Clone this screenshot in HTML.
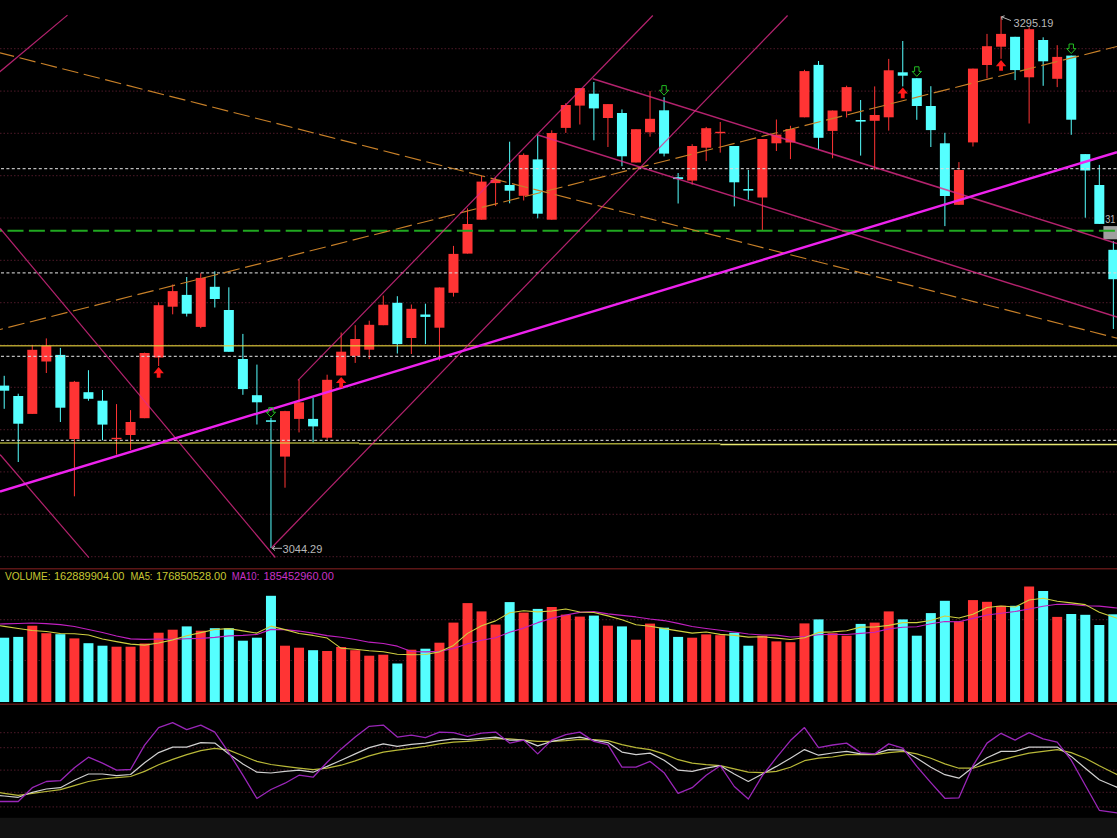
<!DOCTYPE html><html><head><meta charset="utf-8"><style>html,body{margin:0;padding:0;background:#000;overflow:hidden;}svg{display:block;}text{font-family:"Liberation Sans",sans-serif;}</style></head><body>
<svg width="1117" height="838" viewBox="0 0 1117 838">
<rect x="0" y="0" width="1117" height="838" fill="#000"/>
<rect x="0" y="817.8" width="1117" height="20.2" fill="#121212"/>
<line x1="0" y1="48.7" x2="1117" y2="48.7" stroke="#3e1420" stroke-width="1.2" stroke-dasharray="1.5 2"/>
<line x1="0" y1="91.03" x2="1117" y2="91.03" stroke="#3e1420" stroke-width="1.2" stroke-dasharray="1.5 2"/>
<line x1="0" y1="133.35" x2="1117" y2="133.35" stroke="#3e1420" stroke-width="1.2" stroke-dasharray="1.5 2"/>
<line x1="0" y1="175.68" x2="1117" y2="175.68" stroke="#3e1420" stroke-width="1.2" stroke-dasharray="1.5 2"/>
<line x1="0" y1="218" x2="1117" y2="218" stroke="#3e1420" stroke-width="1.2" stroke-dasharray="1.5 2"/>
<line x1="0" y1="260.32" x2="1117" y2="260.32" stroke="#3e1420" stroke-width="1.2" stroke-dasharray="1.5 2"/>
<line x1="0" y1="302.65" x2="1117" y2="302.65" stroke="#3e1420" stroke-width="1.2" stroke-dasharray="1.5 2"/>
<line x1="0" y1="344.98" x2="1117" y2="344.98" stroke="#3e1420" stroke-width="1.2" stroke-dasharray="1.5 2"/>
<line x1="0" y1="387.3" x2="1117" y2="387.3" stroke="#3e1420" stroke-width="1.2" stroke-dasharray="1.5 2"/>
<line x1="0" y1="429.62" x2="1117" y2="429.62" stroke="#3e1420" stroke-width="1.2" stroke-dasharray="1.5 2"/>
<line x1="0" y1="471.95" x2="1117" y2="471.95" stroke="#3e1420" stroke-width="1.2" stroke-dasharray="1.5 2"/>
<line x1="0" y1="514.28" x2="1117" y2="514.28" stroke="#3e1420" stroke-width="1.2" stroke-dasharray="1.5 2"/>
<line x1="0" y1="556.6" x2="1117" y2="556.6" stroke="#3e1420" stroke-width="1.2" stroke-dasharray="1.5 2"/>
<line x1="0" y1="619.7" x2="1117" y2="619.7" stroke="#3e1420" stroke-width="1.2" stroke-dasharray="1.5 2"/>
<line x1="0" y1="660.5" x2="1117" y2="660.5" stroke="#3e1420" stroke-width="1.2" stroke-dasharray="1.5 2"/>
<line x1="0" y1="732.7" x2="1117" y2="732.7" stroke="#3e1420" stroke-width="1.2" stroke-dasharray="1.5 2"/>
<line x1="0" y1="747.7" x2="1117" y2="747.7" stroke="#3e1420" stroke-width="1.2" stroke-dasharray="1.5 2"/>
<line x1="0" y1="770.1" x2="1117" y2="770.1" stroke="#3e1420" stroke-width="1.2" stroke-dasharray="1.5 2"/>
<line x1="0" y1="792.4" x2="1117" y2="792.4" stroke="#3e1420" stroke-width="1.2" stroke-dasharray="1.5 2"/>
<line x1="0" y1="806.8" x2="1117" y2="806.8" stroke="#3e1420" stroke-width="1.2" stroke-dasharray="1.5 2"/>
<line x1="0" y1="568.8" x2="1117" y2="568.8" stroke="#5c1616" stroke-width="1.5"/>
<line x1="0" y1="704.2" x2="1117" y2="704.2" stroke="#5c1616" stroke-width="1.5"/>
<rect x="-0.8" y="637.7" width="10" height="64.3" fill="#55ffff"/>
<rect x="13.24" y="636.9" width="10" height="65.1" fill="#55ffff"/>
<rect x="27.28" y="625.7" width="10" height="76.3" fill="#ff3434"/>
<rect x="41.32" y="633.2" width="10" height="68.8" fill="#ff3434"/>
<rect x="55.36" y="634.2" width="10" height="67.8" fill="#55ffff"/>
<rect x="69.4" y="638.4" width="10" height="63.6" fill="#ff3434"/>
<rect x="83.44" y="643.2" width="10" height="58.8" fill="#55ffff"/>
<rect x="97.48" y="645.7" width="10" height="56.3" fill="#55ffff"/>
<rect x="111.52" y="646.7" width="10" height="55.3" fill="#ff3434"/>
<rect x="125.56" y="646.7" width="10" height="55.3" fill="#ff3434"/>
<rect x="139.6" y="643.5" width="10" height="58.5" fill="#ff3434"/>
<rect x="153.64" y="632.7" width="10" height="69.3" fill="#ff3434"/>
<rect x="167.68" y="629.7" width="10" height="72.3" fill="#ff3434"/>
<rect x="181.72" y="626.4" width="10" height="75.6" fill="#55ffff"/>
<rect x="195.76" y="630.7" width="10" height="71.3" fill="#ff3434"/>
<rect x="209.8" y="628.2" width="10" height="73.8" fill="#55ffff"/>
<rect x="223.84" y="628.2" width="10" height="73.8" fill="#55ffff"/>
<rect x="237.88" y="640.7" width="10" height="61.3" fill="#55ffff"/>
<rect x="251.92" y="637.7" width="10" height="64.3" fill="#55ffff"/>
<rect x="265.96" y="595.8" width="10" height="106.2" fill="#55ffff"/>
<rect x="280" y="645.7" width="10" height="56.3" fill="#ff3434"/>
<rect x="294.04" y="647.7" width="10" height="54.3" fill="#ff3434"/>
<rect x="308.08" y="650.2" width="10" height="51.8" fill="#55ffff"/>
<rect x="322.12" y="651" width="10" height="51" fill="#ff3434"/>
<rect x="336.16" y="647" width="10" height="55" fill="#ff3434"/>
<rect x="350.2" y="650.2" width="10" height="51.8" fill="#ff3434"/>
<rect x="364.24" y="655.7" width="10" height="46.3" fill="#ff3434"/>
<rect x="378.28" y="654.7" width="10" height="47.3" fill="#ff3434"/>
<rect x="392.32" y="663.5" width="10" height="38.5" fill="#55ffff"/>
<rect x="406.36" y="649.7" width="10" height="52.3" fill="#ff3434"/>
<rect x="420.4" y="648.7" width="10" height="53.3" fill="#55ffff"/>
<rect x="434.44" y="642.7" width="10" height="59.3" fill="#ff3434"/>
<rect x="448.48" y="622.6" width="10" height="79.4" fill="#ff3434"/>
<rect x="462.52" y="603.1" width="10" height="98.9" fill="#ff3434"/>
<rect x="476.56" y="611.4" width="10" height="90.6" fill="#ff3434"/>
<rect x="490.6" y="624.6" width="10" height="77.4" fill="#ff3434"/>
<rect x="504.64" y="602.1" width="10" height="99.9" fill="#55ffff"/>
<rect x="518.68" y="612.6" width="10" height="89.4" fill="#ff3434"/>
<rect x="532.72" y="608.9" width="10" height="93.1" fill="#55ffff"/>
<rect x="546.76" y="607" width="10" height="95" fill="#ff3434"/>
<rect x="560.8" y="614.6" width="10" height="87.4" fill="#ff3434"/>
<rect x="574.84" y="616.6" width="10" height="85.4" fill="#ff3434"/>
<rect x="588.88" y="615.6" width="10" height="86.4" fill="#55ffff"/>
<rect x="602.92" y="625.7" width="10" height="76.3" fill="#ff3434"/>
<rect x="616.96" y="626.4" width="10" height="75.6" fill="#55ffff"/>
<rect x="631" y="639.7" width="10" height="62.3" fill="#ff3434"/>
<rect x="645.04" y="623.6" width="10" height="78.4" fill="#ff3434"/>
<rect x="659.08" y="627.7" width="10" height="74.3" fill="#55ffff"/>
<rect x="673.12" y="636.9" width="10" height="65.1" fill="#55ffff"/>
<rect x="687.16" y="637.7" width="10" height="64.3" fill="#ff3434"/>
<rect x="701.2" y="634.4" width="10" height="67.6" fill="#ff3434"/>
<rect x="715.24" y="635.2" width="10" height="66.8" fill="#ff3434"/>
<rect x="729.28" y="632.7" width="10" height="69.3" fill="#55ffff"/>
<rect x="743.32" y="645.7" width="10" height="56.3" fill="#55ffff"/>
<rect x="757.36" y="635.7" width="10" height="66.3" fill="#ff3434"/>
<rect x="771.4" y="641.4" width="10" height="60.6" fill="#ff3434"/>
<rect x="785.44" y="642.2" width="10" height="59.8" fill="#ff3434"/>
<rect x="799.48" y="623.4" width="10" height="78.6" fill="#ff3434"/>
<rect x="813.52" y="619.4" width="10" height="82.6" fill="#55ffff"/>
<rect x="827.56" y="633.2" width="10" height="68.8" fill="#ff3434"/>
<rect x="841.6" y="635.7" width="10" height="66.3" fill="#ff3434"/>
<rect x="855.64" y="623.9" width="10" height="78.1" fill="#55ffff"/>
<rect x="869.68" y="622.6" width="10" height="79.4" fill="#ff3434"/>
<rect x="883.72" y="611.4" width="10" height="90.6" fill="#ff3434"/>
<rect x="897.76" y="619.4" width="10" height="82.6" fill="#55ffff"/>
<rect x="911.8" y="635.7" width="10" height="66.3" fill="#55ffff"/>
<rect x="925.84" y="613.1" width="10" height="88.9" fill="#55ffff"/>
<rect x="939.88" y="600.8" width="10" height="101.2" fill="#55ffff"/>
<rect x="953.92" y="621.4" width="10" height="80.6" fill="#ff3434"/>
<rect x="967.96" y="600.1" width="10" height="101.9" fill="#ff3434"/>
<rect x="982" y="601.8" width="10" height="100.2" fill="#ff3434"/>
<rect x="996.04" y="605.8" width="10" height="96.2" fill="#ff3434"/>
<rect x="1010.08" y="605.8" width="10" height="96.2" fill="#55ffff"/>
<rect x="1024.12" y="586.5" width="10" height="115.5" fill="#ff3434"/>
<rect x="1038.16" y="591" width="10" height="111" fill="#55ffff"/>
<rect x="1052.2" y="616.9" width="10" height="85.1" fill="#ff3434"/>
<rect x="1066.24" y="614" width="10" height="88" fill="#55ffff"/>
<rect x="1080.28" y="614.8" width="10" height="87.2" fill="#55ffff"/>
<rect x="1094.32" y="625" width="10" height="77" fill="#55ffff"/>
<rect x="1108.36" y="614.3" width="10" height="87.7" fill="#55ffff"/>
<polyline points="-1,624.05 4.2,623.9 18.24,623.5 32.28,623 46.32,623.6 60.36,624.6 74.4,626.5 88.44,629.5 102.48,632.5 116.52,636 130.56,638.84 144.6,639.42 158.64,639 172.68,639.4 186.72,638.72 200.76,638.37 214.8,637.35 228.84,635.85 242.88,635.35 256.92,634.45 270.96,629.36 285,629.58 299.04,631.08 313.08,633.13 327.12,635.59 341.16,637.22 355.2,639.42 369.24,642.17 383.28,643.57 397.32,646.15 411.36,651.54 425.4,651.84 439.44,651.34 453.48,648.58 467.52,643.79 481.56,640.23 495.6,637.67 509.64,632.31 523.68,628.1 537.72,622.64 551.76,618.37 565.8,614.96 579.84,612.35 593.88,611.65 607.92,613.91 621.96,615.41 636,616.92 650.04,619.07 664.08,620.58 678.12,623.38 692.16,626.45 706.2,628.43 720.24,630.29 734.28,632 748.32,634 762.36,634.93 776.4,635.1 790.44,636.96 804.48,636.53 818.52,634.78 832.56,634.33 846.6,634.46 860.64,633.33 874.68,632.32 888.72,628.89 902.76,627.26 916.8,626.69 930.84,623.78 944.88,621.52 958.92,621.72 972.96,618.41 987,615.02 1001.04,613.21 1015.08,611.53 1029.12,609.04 1043.16,606.2 1057.2,604.32 1071.24,604.41 1085.28,605.81 1099.32,606.17 1113.36,607.59 1118,608.06" fill="none" stroke="#c020c0" stroke-width="1.1" stroke-linejoin="round"/>
<polyline points="-1,625.62 4.2,626.4 18.24,628.5 32.28,630.5 46.32,631.5 60.36,633.54 74.4,633.68 88.44,634.94 102.48,638.94 116.52,641.64 130.56,644.14 144.6,645.16 158.64,643.06 172.68,639.86 186.72,635.8 200.76,632.6 214.8,629.54 228.84,628.64 242.88,630.84 256.92,633.1 270.96,626.12 285,629.62 299.04,633.52 313.08,635.42 327.12,638.08 341.16,648.32 355.2,649.22 369.24,650.82 383.28,651.72 397.32,654.22 411.36,654.76 425.4,654.46 439.44,651.86 453.48,645.44 467.52,633.36 481.56,625.7 495.6,620.88 509.64,612.76 523.68,610.76 537.72,611.92 551.76,611.04 565.8,609.04 579.84,611.94 593.88,612.54 607.92,615.9 621.96,619.78 636,624.8 650.04,626.2 664.08,628.62 678.12,630.86 692.16,633.12 706.2,632.06 720.24,634.38 734.28,635.38 748.32,637.14 762.36,636.74 776.4,638.14 790.44,639.54 804.48,637.68 818.52,632.42 832.56,631.92 846.6,630.78 860.64,627.12 874.68,626.96 888.72,625.36 902.76,622.6 916.8,622.6 930.84,620.44 944.88,616.08 958.92,618.08 972.96,614.22 987,607.44 1001.04,605.98 1015.08,606.98 1029.12,600 1043.16,598.18 1057.2,601.2 1071.24,602.84 1085.28,604.64 1099.32,612.34 1113.36,617 1118,618.54" fill="none" stroke="#d0d040" stroke-width="1.1" stroke-linejoin="round"/>
<polyline points="-1,792.56 4.2,793.3 18.24,795.3 32.28,793.3 46.32,791.5 60.36,789.7 74.4,785.7 88.44,781.5 102.48,779 116.52,777.7 130.56,776.5 144.6,771.4 158.64,764.7 172.68,759.4 186.72,754.6 200.76,750.6 214.8,748.4 228.84,750.1 242.88,755.7 256.92,761.4 270.96,764.5 285,766.4 299.04,768.2 313.08,769.7 327.12,768.2 341.16,765.2 355.2,760.9 369.24,755.9 383.28,752.1 397.32,750.1 411.36,748.4 425.4,746.4 439.44,743.9 453.48,742.1 467.52,741.4 481.56,740.1 495.6,738.9 509.64,738.9 523.68,740.1 537.72,741.4 551.76,741.4 565.8,740.6 579.84,739.4 593.88,739.6 607.92,740.6 621.96,744.6 636,747.6 650.04,749.6 664.08,753.9 678.12,759.7 692.16,763.2 706.2,764.7 720.24,765.7 734.28,768.9 748.32,772.2 762.36,772.7 776.4,771.4 790.44,767.2 804.48,760.7 818.52,758.2 832.56,757 846.6,754.6 860.64,754.6 874.68,754.6 888.72,752.6 902.76,751.4 916.8,753.9 930.84,758.2 944.88,763.9 958.92,768.2 972.96,768.2 987,763.9 1001.04,760.2 1015.08,756.4 1029.12,753.1 1043.16,751.4 1057.2,749.6 1071.24,752.6 1085.28,758.2 1099.32,765.7 1113.36,772.7 1118,775.01" fill="none" stroke="#b8b838" stroke-width="1.2" stroke-linejoin="round"/>
<polyline points="-1,795.52 4.2,796 18.24,797.3 32.28,792.3 46.32,789 60.36,787.7 74.4,780.2 88.44,774 102.48,774 116.52,775.7 130.56,774.5 144.6,762.7 158.64,752.6 172.68,747.1 186.72,747.1 200.76,742.6 214.8,743.1 228.84,753.9 242.88,763.9 256.92,772.2 270.96,773 285,771.4 299.04,770.2 313.08,772.2 327.12,766.4 341.16,760.2 355.2,753.9 369.24,747.6 383.28,743.9 397.32,746.4 411.36,744.4 425.4,743.1 439.44,740.6 453.48,738.9 467.52,739.6 481.56,738.4 495.6,737.1 509.64,740.1 523.68,740.1 537.72,745.9 551.76,741.4 565.8,738.9 579.84,737.1 593.88,740.1 607.92,742.6 621.96,752.1 636,754.6 650.04,753.1 664.08,760.2 678.12,770.2 692.16,771.4 706.2,768.2 720.24,765.7 734.28,774 748.32,781.5 762.36,774 776.4,766.4 790.44,758.2 804.48,749.6 818.52,755.2 832.56,753 846.6,751.4 860.64,753.9 874.68,753.9 888.72,749.6 902.76,750.1 916.8,758.2 930.84,767.2 944.88,774.7 958.92,778.2 972.96,767.2 987,757.7 1001.04,751.4 1015.08,751.4 1029.12,747.1 1043.16,747.1 1057.2,747.1 1071.24,756.4 1085.28,768.2 1099.32,779.7 1113.36,785.7 1118,787.68" fill="none" stroke="#d0d0d0" stroke-width="1.2" stroke-linejoin="round"/>
<polyline points="-1,801.5 4.2,801.5 18.24,801.5 32.28,787.7 46.32,781.5 60.36,780.7 74.4,767.7 88.44,757.2 102.48,763.2 116.52,770.2 130.56,769.5 144.6,745.1 158.64,727.6 172.68,722.6 186.72,729.6 200.76,725.1 214.8,732.1 228.84,752.6 242.88,775.2 256.92,798.5 270.96,789.5 285,783.2 299.04,775.2 313.08,777.2 327.12,762.2 341.16,748.9 355.2,737.1 369.24,726.3 383.28,725.1 397.32,737.1 411.36,735.1 425.4,737.6 439.44,732.1 453.48,732.6 467.52,736.3 481.56,733.1 495.6,732.1 509.64,743.1 523.68,740.1 537.72,753.9 551.76,740.1 565.8,734.6 579.84,732.1 593.88,741.4 607.92,744.6 621.96,767.2 636,767.2 650.04,761.4 664.08,772.7 678.12,793.3 692.16,787.7 706.2,775.2 720.24,765.7 734.28,786.5 748.32,799 762.36,775.7 776.4,757.7 790.44,740.6 804.48,727.6 818.52,747.6 832.56,745 846.6,743.1 860.64,752.6 874.68,753.9 888.72,743.9 902.76,748.1 916.8,766.4 930.84,782.7 944.88,798.3 958.92,797.8 972.96,765.7 987,743.1 1001.04,733.3 1015.08,740.1 1029.12,732.6 1043.16,738.9 1057.2,742.1 1071.24,760.2 1085.28,785.2 1099.32,810.3 1113.36,812.3 1118,812.96" fill="none" stroke="#9a26b8" stroke-width="1.3" stroke-linejoin="round"/>
<rect x="3.7" y="375.8" width="1" height="33" fill="#55ffff"/>
<rect x="-0.8" y="385.6" width="10" height="5.1" fill="#55ffff"/>
<rect x="17.74" y="393.7" width="1" height="68.3" fill="#55ffff"/>
<rect x="13.24" y="396" width="10" height="27.7" fill="#55ffff"/>
<rect x="31.78" y="345.1" width="1" height="68.8" fill="#ff3434"/>
<rect x="27.28" y="349.8" width="10" height="64.1" fill="#ff3434"/>
<rect x="45.82" y="338.4" width="1" height="34.6" fill="#ff3434"/>
<rect x="41.32" y="345.8" width="10" height="15.7" fill="#ff3434"/>
<rect x="59.86" y="347.9" width="1" height="74.1" fill="#55ffff"/>
<rect x="55.36" y="354.9" width="10" height="52.8" fill="#55ffff"/>
<rect x="73.9" y="380.9" width="1" height="115.4" fill="#ff3434"/>
<rect x="69.4" y="381.8" width="10" height="57.2" fill="#ff3434"/>
<rect x="87.94" y="370.2" width="1" height="30.5" fill="#55ffff"/>
<rect x="83.44" y="392.2" width="10" height="6.6" fill="#55ffff"/>
<rect x="101.98" y="390" width="1" height="50.3" fill="#55ffff"/>
<rect x="97.48" y="400.7" width="10" height="23.9" fill="#55ffff"/>
<rect x="116.02" y="404.1" width="1" height="50.5" fill="#ff3434"/>
<rect x="111.52" y="437.8" width="10" height="1.4" fill="#ff3434"/>
<rect x="130.06" y="410.1" width="1" height="39.9" fill="#ff3434"/>
<rect x="125.56" y="422" width="10" height="13" fill="#ff3434"/>
<rect x="144.1" y="352.6" width="1" height="65.6" fill="#ff3434"/>
<rect x="139.6" y="353" width="10" height="65.2" fill="#ff3434"/>
<rect x="158.14" y="302.4" width="1" height="63.6" fill="#ff3434"/>
<rect x="153.64" y="305.2" width="10" height="52.3" fill="#ff3434"/>
<rect x="172.18" y="284.5" width="1" height="29.8" fill="#ff3434"/>
<rect x="167.68" y="291.1" width="10" height="15.6" fill="#ff3434"/>
<rect x="186.22" y="277" width="1" height="39.5" fill="#55ffff"/>
<rect x="181.72" y="294.9" width="10" height="18.8" fill="#55ffff"/>
<rect x="200.26" y="273.2" width="1" height="55" fill="#ff3434"/>
<rect x="195.76" y="277.9" width="10" height="49" fill="#ff3434"/>
<rect x="214.3" y="271.3" width="1" height="36.2" fill="#55ffff"/>
<rect x="209.8" y="286.8" width="10" height="12.2" fill="#55ffff"/>
<rect x="228.34" y="287.3" width="1" height="64.5" fill="#55ffff"/>
<rect x="223.84" y="310" width="10" height="41.8" fill="#55ffff"/>
<rect x="242.38" y="333.9" width="1" height="60.9" fill="#55ffff"/>
<rect x="237.88" y="359" width="10" height="30.1" fill="#55ffff"/>
<rect x="256.42" y="364.6" width="1" height="59.9" fill="#55ffff"/>
<rect x="251.92" y="395.2" width="10" height="7.1" fill="#55ffff"/>
<rect x="270.46" y="418" width="1" height="130" fill="#55ffff"/>
<rect x="265.96" y="420.3" width="10" height="1.5" fill="#55ffff"/>
<rect x="284.5" y="410.8" width="1" height="76.9" fill="#ff3434"/>
<rect x="280" y="411.1" width="10" height="45.5" fill="#ff3434"/>
<rect x="298.54" y="379.7" width="1" height="52.7" fill="#ff3434"/>
<rect x="294.04" y="402.3" width="10" height="16.6" fill="#ff3434"/>
<rect x="312.58" y="397.6" width="1" height="44.8" fill="#55ffff"/>
<rect x="308.08" y="418.9" width="10" height="7.5" fill="#55ffff"/>
<rect x="326.62" y="374.7" width="1" height="64.9" fill="#ff3434"/>
<rect x="322.12" y="379.8" width="10" height="57.9" fill="#ff3434"/>
<rect x="340.66" y="332.5" width="1" height="43" fill="#ff3434"/>
<rect x="336.16" y="351.7" width="10" height="23.8" fill="#ff3434"/>
<rect x="354.7" y="325.2" width="1" height="37.7" fill="#ff3434"/>
<rect x="350.2" y="339" width="10" height="16.9" fill="#ff3434"/>
<rect x="368.74" y="320.7" width="1" height="38.4" fill="#ff3434"/>
<rect x="364.24" y="324.8" width="10" height="24.9" fill="#ff3434"/>
<rect x="382.78" y="295.6" width="1" height="29.6" fill="#ff3434"/>
<rect x="378.28" y="304.7" width="10" height="20.5" fill="#ff3434"/>
<rect x="396.82" y="296.2" width="1" height="57.3" fill="#55ffff"/>
<rect x="392.32" y="302.8" width="10" height="41.3" fill="#55ffff"/>
<rect x="410.86" y="304.5" width="1" height="49.5" fill="#ff3434"/>
<rect x="406.36" y="308.8" width="10" height="29.2" fill="#ff3434"/>
<rect x="424.9" y="303.7" width="1" height="40.4" fill="#55ffff"/>
<rect x="420.4" y="314.5" width="10" height="2.4" fill="#55ffff"/>
<rect x="438.94" y="287.5" width="1" height="73.1" fill="#ff3434"/>
<rect x="434.44" y="287.5" width="10" height="40.2" fill="#ff3434"/>
<rect x="452.98" y="245.9" width="1" height="50.7" fill="#ff3434"/>
<rect x="448.48" y="253.9" width="10" height="38.9" fill="#ff3434"/>
<rect x="467.02" y="208.4" width="1" height="45.2" fill="#ff3434"/>
<rect x="462.52" y="224" width="10" height="29.6" fill="#ff3434"/>
<rect x="481.06" y="175.6" width="1" height="44.1" fill="#ff3434"/>
<rect x="476.56" y="181.6" width="10" height="38.1" fill="#ff3434"/>
<rect x="495.1" y="177.5" width="1" height="28.6" fill="#ff3434"/>
<rect x="490.6" y="179.7" width="10" height="3.4" fill="#ff3434"/>
<rect x="509.14" y="141.7" width="1" height="61.6" fill="#55ffff"/>
<rect x="504.64" y="185" width="10" height="5.7" fill="#55ffff"/>
<rect x="523.18" y="153.4" width="1" height="47.1" fill="#ff3434"/>
<rect x="518.68" y="154.9" width="10" height="40.9" fill="#ff3434"/>
<rect x="537.22" y="135.4" width="1" height="83" fill="#55ffff"/>
<rect x="532.72" y="159.4" width="10" height="54.3" fill="#55ffff"/>
<rect x="551.26" y="130.3" width="1" height="89.4" fill="#ff3434"/>
<rect x="546.76" y="133" width="10" height="86.7" fill="#ff3434"/>
<rect x="565.3" y="103.2" width="1" height="29.7" fill="#ff3434"/>
<rect x="560.8" y="105" width="10" height="22.9" fill="#ff3434"/>
<rect x="579.34" y="88.1" width="1" height="36.4" fill="#ff3434"/>
<rect x="574.84" y="88.1" width="10" height="17.5" fill="#ff3434"/>
<rect x="593.38" y="82" width="1" height="58.3" fill="#55ffff"/>
<rect x="588.88" y="93.7" width="10" height="14.7" fill="#55ffff"/>
<rect x="607.42" y="104.1" width="1" height="42.9" fill="#ff3434"/>
<rect x="602.92" y="104.1" width="10" height="13.9" fill="#ff3434"/>
<rect x="621.46" y="109.4" width="1" height="56.8" fill="#55ffff"/>
<rect x="616.96" y="113" width="10" height="43.3" fill="#55ffff"/>
<rect x="635.5" y="129.2" width="1" height="33.3" fill="#ff3434"/>
<rect x="631" y="129.2" width="10" height="33.3" fill="#ff3434"/>
<rect x="649.54" y="91.1" width="1" height="45.6" fill="#ff3434"/>
<rect x="645.04" y="118.8" width="10" height="13.5" fill="#ff3434"/>
<rect x="663.58" y="97.1" width="1" height="59.3" fill="#55ffff"/>
<rect x="659.08" y="110.3" width="10" height="43.3" fill="#55ffff"/>
<rect x="677.62" y="173" width="1" height="30.5" fill="#55ffff"/>
<rect x="673.12" y="177.2" width="10" height="1.9" fill="#55ffff"/>
<rect x="691.66" y="144.2" width="1" height="40.4" fill="#ff3434"/>
<rect x="687.16" y="146" width="10" height="34.6" fill="#ff3434"/>
<rect x="705.7" y="126.9" width="1" height="34.2" fill="#ff3434"/>
<rect x="701.2" y="128.2" width="10" height="19.5" fill="#ff3434"/>
<rect x="719.74" y="122" width="1" height="30.6" fill="#ff3434"/>
<rect x="715.24" y="131.8" width="10" height="1.4" fill="#ff3434"/>
<rect x="733.78" y="146" width="1" height="60.4" fill="#55ffff"/>
<rect x="729.28" y="146" width="10" height="36.3" fill="#55ffff"/>
<rect x="747.82" y="170" width="1" height="29.7" fill="#55ffff"/>
<rect x="743.32" y="189" width="10" height="1.6" fill="#55ffff"/>
<rect x="761.86" y="139" width="1" height="91.8" fill="#ff3434"/>
<rect x="757.36" y="139" width="10" height="58.5" fill="#ff3434"/>
<rect x="775.9" y="119.5" width="1" height="31.5" fill="#ff3434"/>
<rect x="771.4" y="134.6" width="10" height="8.7" fill="#ff3434"/>
<rect x="789.94" y="125.8" width="1" height="33.3" fill="#ff3434"/>
<rect x="785.44" y="129" width="10" height="13.5" fill="#ff3434"/>
<rect x="803.98" y="69.8" width="1" height="47.5" fill="#ff3434"/>
<rect x="799.48" y="71.1" width="10" height="46.2" fill="#ff3434"/>
<rect x="818.02" y="61" width="1" height="88.5" fill="#55ffff"/>
<rect x="813.52" y="64.9" width="10" height="72.9" fill="#55ffff"/>
<rect x="832.06" y="110.5" width="1" height="47.8" fill="#ff3434"/>
<rect x="827.56" y="110.5" width="10" height="20.4" fill="#ff3434"/>
<rect x="846.1" y="85.7" width="1" height="31.8" fill="#ff3434"/>
<rect x="841.6" y="87.1" width="10" height="24.2" fill="#ff3434"/>
<rect x="860.14" y="100" width="1" height="55.6" fill="#55ffff"/>
<rect x="855.64" y="120" width="10" height="1.6" fill="#55ffff"/>
<rect x="874.18" y="86.4" width="1" height="83.8" fill="#ff3434"/>
<rect x="869.68" y="115" width="10" height="5.8" fill="#ff3434"/>
<rect x="888.22" y="58.9" width="1" height="71.7" fill="#ff3434"/>
<rect x="883.72" y="70.3" width="10" height="47" fill="#ff3434"/>
<rect x="902.26" y="41" width="1" height="45.4" fill="#55ffff"/>
<rect x="897.76" y="72.3" width="10" height="3.4" fill="#55ffff"/>
<rect x="916.3" y="78.2" width="1" height="41.6" fill="#55ffff"/>
<rect x="911.8" y="78.2" width="10" height="27.8" fill="#55ffff"/>
<rect x="930.34" y="86.2" width="1" height="60.8" fill="#55ffff"/>
<rect x="925.84" y="106" width="10" height="24.1" fill="#55ffff"/>
<rect x="944.38" y="132.8" width="1" height="93.3" fill="#55ffff"/>
<rect x="939.88" y="143.3" width="10" height="52.7" fill="#55ffff"/>
<rect x="958.42" y="162.1" width="1" height="42.7" fill="#ff3434"/>
<rect x="953.92" y="170" width="10" height="34.8" fill="#ff3434"/>
<rect x="972.46" y="68.6" width="1" height="77.9" fill="#ff3434"/>
<rect x="967.96" y="68.6" width="10" height="73.8" fill="#ff3434"/>
<rect x="986.5" y="33.9" width="1" height="44.4" fill="#ff3434"/>
<rect x="982" y="46.2" width="10" height="18.8" fill="#ff3434"/>
<rect x="1000.54" y="16.3" width="1" height="42.5" fill="#ff3434"/>
<rect x="996.04" y="33.9" width="10" height="12.8" fill="#ff3434"/>
<rect x="1014.58" y="36.8" width="1" height="43.3" fill="#55ffff"/>
<rect x="1010.08" y="36.8" width="10" height="33.3" fill="#55ffff"/>
<rect x="1028.62" y="27.3" width="1" height="96.2" fill="#ff3434"/>
<rect x="1024.12" y="29.2" width="10" height="48.1" fill="#ff3434"/>
<rect x="1042.66" y="37.3" width="1" height="48.5" fill="#55ffff"/>
<rect x="1038.16" y="40" width="10" height="21.3" fill="#55ffff"/>
<rect x="1056.7" y="45.2" width="1" height="41.9" fill="#ff3434"/>
<rect x="1052.2" y="56.9" width="10" height="21.9" fill="#ff3434"/>
<rect x="1070.74" y="55.6" width="1" height="79.2" fill="#55ffff"/>
<rect x="1066.24" y="55.6" width="10" height="64.1" fill="#55ffff"/>
<rect x="1084.78" y="154.1" width="1" height="63.6" fill="#55ffff"/>
<rect x="1080.28" y="154.1" width="10" height="16.4" fill="#55ffff"/>
<rect x="1098.82" y="164.9" width="1" height="59" fill="#55ffff"/>
<rect x="1094.32" y="185" width="10" height="38.9" fill="#55ffff"/>
<rect x="1112.86" y="241.2" width="1" height="87.8" fill="#55ffff"/>
<rect x="1108.36" y="249.8" width="10" height="29.4" fill="#55ffff"/>
<line x1="0" y1="168.6" x2="1117" y2="168.6" stroke="#dcdcdc" stroke-opacity="0.85" stroke-width="1.2" stroke-dasharray="3 2.4" stroke-dashoffset="-1"/>
<line x1="0" y1="272.8" x2="1117" y2="272.8" stroke="#dcdcdc" stroke-opacity="0.85" stroke-width="1.2" stroke-dasharray="3 2.4" stroke-dashoffset="-1"/>
<line x1="0" y1="356.4" x2="1117" y2="356.4" stroke="#dcdcdc" stroke-opacity="0.85" stroke-width="1.2" stroke-dasharray="3 2.4" stroke-dashoffset="-1"/>
<line x1="0" y1="440.3" x2="1117" y2="440.3" stroke="#dcdcdc" stroke-opacity="0.85" stroke-width="1.2" stroke-dasharray="3 2.4" stroke-dashoffset="-1"/>
<line x1="0" y1="345.7" x2="1117" y2="345.7" stroke="#e6d23c" stroke-opacity="0.75" stroke-width="1.5"/>
<line x1="0" y1="442.9" x2="359" y2="442.9" stroke="#d8d848" stroke-opacity="0.75" stroke-width="1.5"/>
<line x1="359" y1="443.8" x2="720.3" y2="443.8" stroke="#d8d848" stroke-opacity="0.75" stroke-width="1.5"/>
<line x1="720.3" y1="444.5" x2="1117" y2="444.5" stroke="#e8e870" stroke-width="1.5"/>
<rect x="1103.4" y="226.1" width="14" height="13.2" fill="#a0a0a0"/>
<line x1="0" y1="230.8" x2="1117" y2="230.8" stroke="#20a820" stroke-width="2" stroke-dasharray="16 5.4" stroke-dashoffset="-7.5"/>
<line x1="0" y1="52.8" x2="1117" y2="338.19" stroke="#c88028" stroke-width="1.15" stroke-dasharray="16.5 5.6" stroke-dashoffset="2"/>
<line x1="0" y1="329.5" x2="1117" y2="46.45" stroke="#c88028" stroke-width="1.15" stroke-dasharray="16.6 5.6" stroke-dashoffset="13.6"/>
<line x1="-5" y1="75.78" x2="67.5" y2="15.1" stroke="#e02a88" stroke-opacity="0.8" stroke-width="1.2"/>
<line x1="0" y1="228.2" x2="275.3" y2="557.5" stroke="#e02a88" stroke-opacity="0.8" stroke-width="1.2"/>
<line x1="0" y1="454.5" x2="88.9" y2="557.6" stroke="#e02a88" stroke-opacity="0.8" stroke-width="1.2"/>
<line x1="271.3" y1="548" x2="787.6" y2="15.5" stroke="#e02a88" stroke-opacity="0.8" stroke-width="1.2"/>
<line x1="297.9" y1="380.4" x2="652.8" y2="15.5" stroke="#e02a88" stroke-opacity="0.8" stroke-width="1.2"/>
<line x1="592.8" y1="78.7" x2="1117" y2="243.46" stroke="#e02a88" stroke-opacity="0.8" stroke-width="1.5"/>
<line x1="537.2" y1="134.8" x2="1117" y2="317.03" stroke="#e02a88" stroke-opacity="0.8" stroke-width="1.5"/>
<line x1="0" y1="491.6" x2="1117" y2="152.14" stroke="#ee22ee" stroke-width="2.4"/>
<polygon points="158.64,367.1 163.84,373.2 160.54,373.2 160.54,377.8 156.74,377.8 156.74,373.2 153.44,373.2" fill="#ff1a1a"/>
<polygon points="341.16,377 346.36,383.1 343.06,383.1 343.06,387.7 339.26,387.7 339.26,383.1 335.96,383.1" fill="#ff1a1a"/>
<polygon points="902.76,87.5 907.96,93.6 904.66,93.6 904.66,98.2 900.86,98.2 900.86,93.6 897.56,93.6" fill="#ff1a1a"/>
<polygon points="1001.04,60.1 1006.24,66.2 1002.94,66.2 1002.94,70.8 999.14,70.8 999.14,66.2 995.84,66.2" fill="#ff1a1a"/>
<polygon points="268.76,407.6 273.16,407.6 273.16,412.2 275.56,412.2 270.96,417.2 266.36,412.2 268.76,412.2" fill="none" stroke="#22bb22" stroke-width="1"/>
<polygon points="661.88,85.6 666.28,85.6 666.28,90.2 668.68,90.2 664.08,95.2 659.48,90.2 661.88,90.2" fill="none" stroke="#22bb22" stroke-width="1"/>
<polygon points="914.6,66.8 919,66.8 919,71.4 921.4,71.4 916.8,76.4 912.2,71.4 914.6,71.4" fill="none" stroke="#22bb22" stroke-width="1"/>
<polygon points="1069.04,44 1073.44,44 1073.44,48.6 1075.84,48.6 1071.24,53.6 1066.64,48.6 1069.04,48.6" fill="none" stroke="#22bb22" stroke-width="1"/>
<g fill="#b8b8b8" font-size="11">
<text x="282.6" y="552.8">3044.29</text>
<text x="1013.6" y="26.7">3295.19</text>
<text x="1105.2" y="223.3" textLength="10.2" lengthAdjust="spacingAndGlyphs">31</text>
</g>
<polyline points="282,548.3 272.3,548.3" fill="none" stroke="#b8b8b8" stroke-width="1"/>
<polyline points="275,546 272.3,548.3 275,550.6" fill="none" stroke="#b8b8b8" stroke-width="1"/>
<polyline points="1011,20.6 1001.5,16.8" fill="none" stroke="#b8b8b8" stroke-width="1"/>
<polyline points="1004.6,15.8 1001.5,16.8 1002.2,19.8" fill="none" stroke="#b8b8b8" stroke-width="1"/>
<text x="5" y="580.2" font-size="11" fill="#c8c832" textLength="45.5" lengthAdjust="spacingAndGlyphs">VOLUME:</text>
<text x="53.9" y="580.2" font-size="11" fill="#c8c832" textLength="70.6" lengthAdjust="spacingAndGlyphs">162889904.00</text>
<text x="130.5" y="580.2" font-size="11" fill="#c8c832" textLength="22" lengthAdjust="spacingAndGlyphs">MA5:</text>
<text x="155.9" y="580.2" font-size="11" fill="#c8c832" textLength="70.5" lengthAdjust="spacingAndGlyphs">176850528.00</text>
<text x="231.8" y="580.2" font-size="11" fill="#c832c8" textLength="27.5" lengthAdjust="spacingAndGlyphs">MA10:</text>
<text x="263.4" y="580.2" font-size="11" fill="#c832c8" textLength="70.5" lengthAdjust="spacingAndGlyphs">185452960.00</text>
</svg></body></html>
